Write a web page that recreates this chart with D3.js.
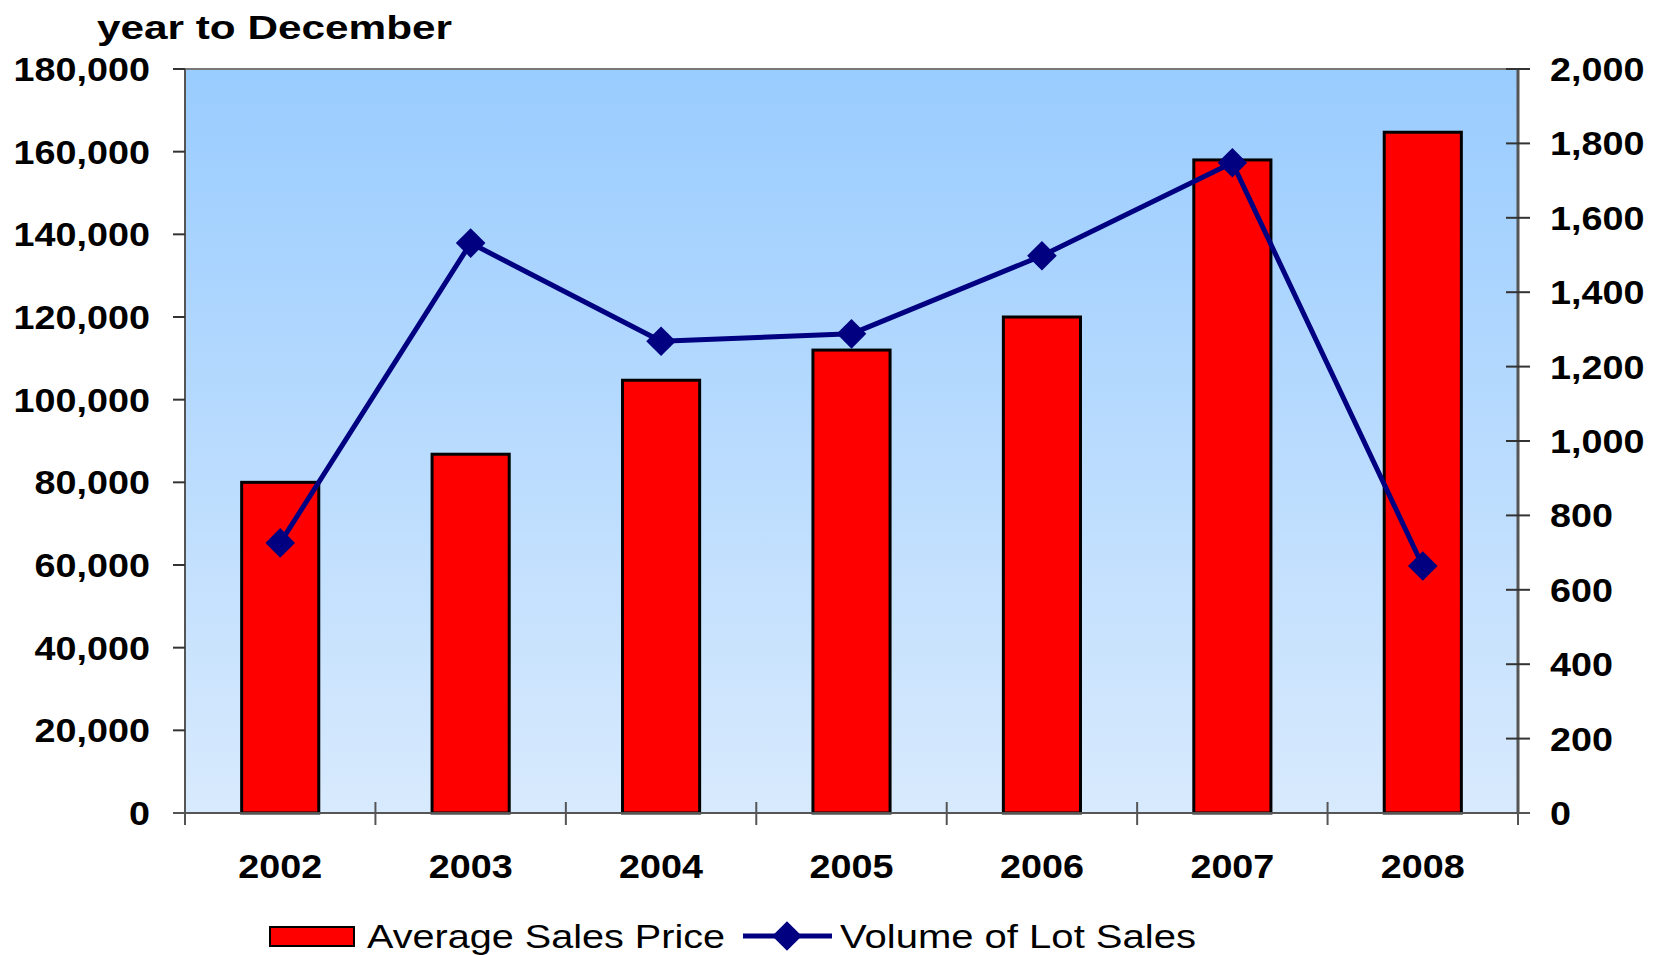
<!DOCTYPE html>
<html>
<head>
<meta charset="utf-8">
<script src="https://cdn.jsdelivr.net/npm/d3@7"></script>
<style>
  body { margin: 0; background: #fff; }
  text { font-family: "Liberation Sans", Arial, sans-serif; }
</style>
</head>
<body>
<div id="chart"></div>
<script>
// data
var years = ["2002", "2003", "2004", "2005", "2006", "2007", "2008"]
var avgPrice = [80000, 86800, 104700, 112000, 120000, 158000, 164700]
var lotVolume = [726, 1532, 1268, 1288, 1498, 1748, 664]
var leftTicks = [0, 20000, 40000, 60000, 80000, 100000, 120000, 140000, 160000, 180000]
var rightTicks = [0, 200, 400, 600, 800, 1000, 1200, 1400, 1600, 1800, 2000]

const width = 1657
const height = 955

// plot area
const padding = { top: 69, right: 139, bottom: 142, left: 185 }
const plotW = width - padding.left - padding.right
const plotH = height - padding.top - padding.bottom

// the original text is a bit stretched sideways
const stretch = 1.11

const x = d3.scaleBand().domain(years).range([0, plotW]).paddingInner(0.595).paddingOuter(0.2975)
const xOuter = d3.scaleBand().domain(years).range([0, plotW])
const yL = d3.scaleLinear().domain([0, 180000]).range([plotH, 0])
const yR = d3.scaleLinear().domain([0, 2000]).range([plotH, 0])
const fmt = d3.format(",")

function place(px, py){ return "translate(" + px + "," + py + ") scale(" + stretch + ",1)" }

var svg = d3.select("#chart").append("svg")
  .attr("width", width)
  .attr("height", height)

var defs = svg.append("defs")
var grad = defs.append("linearGradient").attr("id", "bg").attr("x1", 0).attr("y1", 0).attr("x2", 0).attr("y2", 1)
grad.append("stop").attr("offset", "0%").attr("stop-color", "#99ccff")
grad.append("stop").attr("offset", "100%").attr("stop-color", "#d8eafd")

// title
svg.append("text")
  .attr("x", 97).attr("y", 39)
  .attr("textLength", 355).attr("lengthAdjust", "spacingAndGlyphs")
  .style("font-size", "34px").style("font-weight", "bold")
  .text("year to December")

var g = svg.append("g").attr("transform", "translate(" + padding.left + "," + padding.top + ")")

g.append("rect")
  .attr("width", plotW).attr("height", plotH)
  .attr("fill", "url(#bg)")

// frame top
g.append("line").attr("x1", 0).attr("x2", plotW).attr("y1", 0).attr("y2", 0)
  .attr("stroke", "#777").attr("stroke-width", 2)

// bars
g.selectAll("rect.bar")
  .data(avgPrice)
  .enter()
  .append("rect")
  .attr("class", "bar")
  .attr("x", (d, i) => x(years[i]))
  .attr("width", x.bandwidth())
  .attr("y", d => yL(d))
  .attr("height", d => plotH - yL(d))
  .attr("fill", "#ff0000")
  .attr("stroke", "#000")
  .attr("stroke-width", 3)

// left axis
var leftAxis = g.append("g")
leftAxis.append("line").attr("x1", 0).attr("x2", 0).attr("y1", 0).attr("y2", plotH)
  .attr("stroke", "#555").attr("stroke-width", 2)
leftAxis.selectAll("line.tick").data(leftTicks).enter().append("line")
  .attr("x1", -12).attr("x2", 0)
  .attr("y1", d => yL(d)).attr("y2", d => yL(d))
  .attr("stroke", "#333").attr("stroke-width", 2)
leftAxis.selectAll("text").data(leftTicks).enter().append("text")
  .attr("transform", d => place(-35, yL(d) + 12))
  .attr("text-anchor", "end")
  .style("font-size", "34px").style("font-weight", "bold")
  .text(d => fmt(d))

// right axis
var rightAxis = g.append("g").attr("transform", "translate(" + plotW + ",0)")
rightAxis.append("line").attr("x1", 0).attr("x2", 0).attr("y1", 0).attr("y2", plotH)
  .attr("stroke", "#555").attr("stroke-width", 3)
rightAxis.selectAll("line.tick").data(rightTicks).enter().append("line")
  .attr("x1", -12).attr("x2", 12)
  .attr("y1", d => yR(d)).attr("y2", d => yR(d))
  .attr("stroke", "#333").attr("stroke-width", 2)
rightAxis.selectAll("text").data(rightTicks).enter().append("text")
  .attr("transform", d => place(32, yR(d) + 12))
  .attr("text-anchor", "start")
  .style("font-size", "34px").style("font-weight", "bold")
  .text(d => fmt(d))

// bottom axis
var bottomAxis = g.append("g").attr("transform", "translate(0," + plotH + ")")
bottomAxis.append("line").attr("x1", -12).attr("x2", plotW + 12)
  .attr("stroke", "#555").attr("stroke-width", 2)
var bounds = years.map(d => xOuter(d)).concat([plotW])
bottomAxis.selectAll("line.tick").data(bounds).enter().append("line")
  .attr("x1", d => d).attr("x2", d => d)
  .attr("y1", (d, i) => (i == 0 || i == bounds.length - 1) ? 0 : -11).attr("y2", 12)
  .attr("stroke", "#555").attr("stroke-width", 2)
bottomAxis.selectAll("text").data(years).enter().append("text")
  .attr("transform", d => place(xOuter(d) + xOuter.bandwidth() / 2, 65))
  .attr("text-anchor", "middle")
  .style("font-size", "34px").style("font-weight", "bold")
  .text(d => d)

// line series
var cx = (d, i) => xOuter(years[i]) + xOuter.bandwidth() / 2
var line = d3.line().x((d, i) => cx(d, i)).y(d => yR(d))
g.append("path")
  .datum(lotVolume)
  .attr("d", line)
  .attr("fill", "none")
  .attr("stroke", "#000080")
  .attr("stroke-width", 5)
  .attr("stroke-linejoin", "round")

var diamond = d3.symbol().type(d3.symbolDiamond2).size(560)
g.selectAll("path.marker")
  .data(lotVolume)
  .enter()
  .append("path")
  .attr("class", "marker")
  .attr("transform", (d, i) => "translate(" + cx(d, i) + "," + yR(d) + ")")
  .attr("d", diamond)
  .attr("fill", "#000080")

// legend
var legend = svg.append("g").attr("transform", "translate(0,936)")
legend.append("rect")
  .attr("x", 270).attr("y", -9).attr("width", 84).attr("height", 19)
  .attr("fill", "#ff0000").attr("stroke", "#000").attr("stroke-width", 2)
legend.append("text")
  .attr("x", 367).attr("y", 12)
  .style("font-size", "33px").attr("textLength", 358).attr("lengthAdjust", "spacingAndGlyphs")
  .text("Average Sales Price")
legend.append("line")
  .attr("x1", 743).attr("x2", 832).attr("y1", 0).attr("y2", 0)
  .attr("stroke", "#000080").attr("stroke-width", 5)
legend.append("path")
  .attr("transform", "translate(787,0)")
  .attr("d", diamond)
  .attr("fill", "#000080")
legend.append("text")
  .attr("x", 840).attr("y", 12)
  .style("font-size", "33px").attr("textLength", 356).attr("lengthAdjust", "spacingAndGlyphs")
  .text("Volume of Lot Sales")
</script>
</body>
</html>
